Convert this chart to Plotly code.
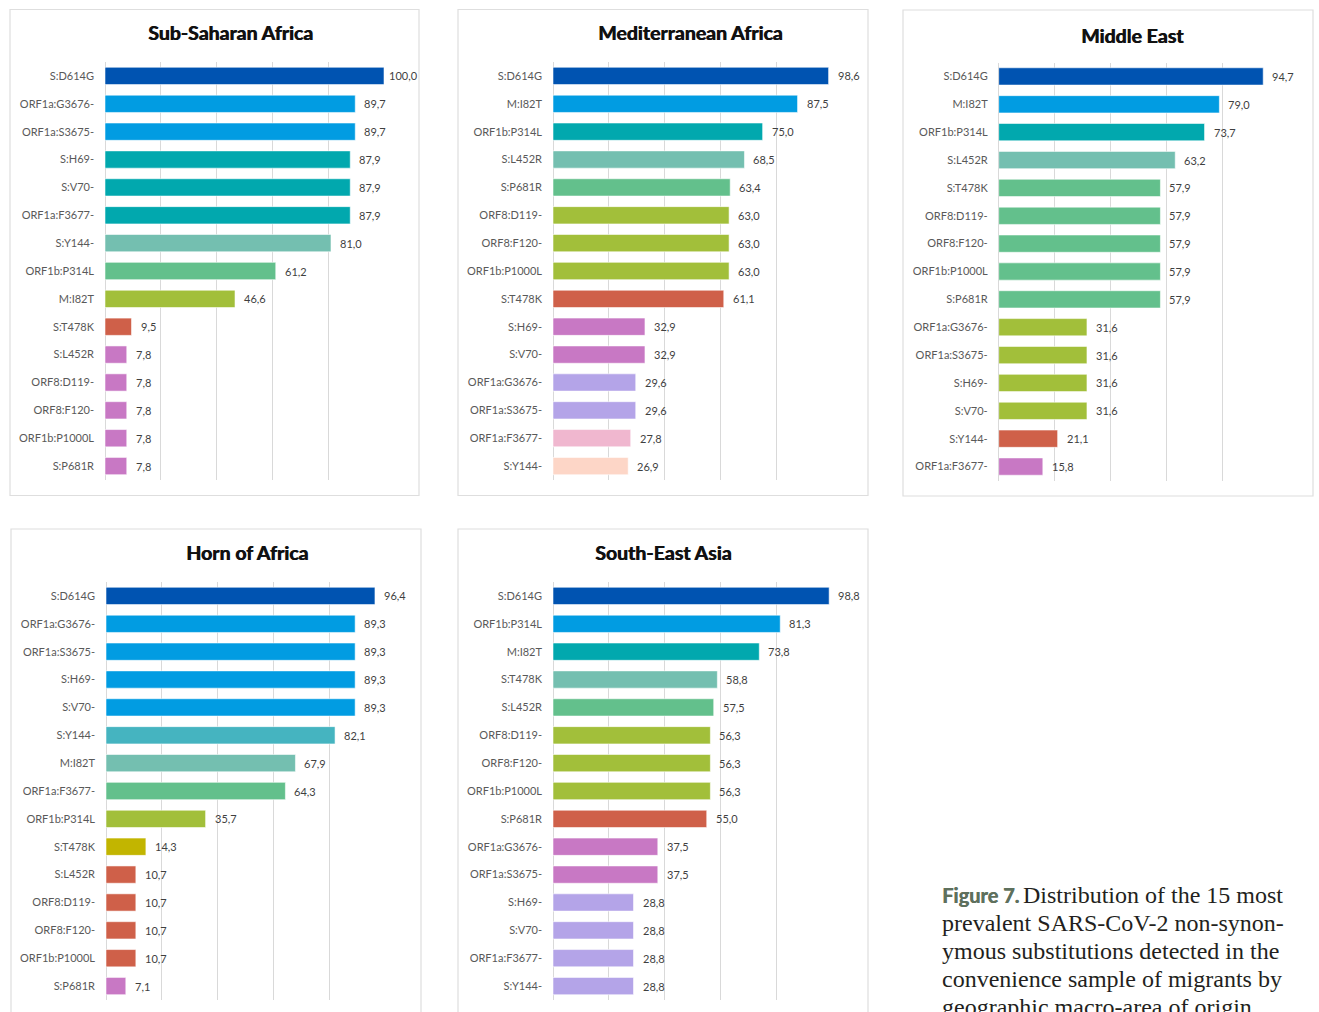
import plotly.graph_objects as go

W, H = 1319, 1012

# ---- colour palette -------------------------------------------------------
DARK_BLUE = "#0053b1"
BLUE = "#019ce2"
TEAL = "#01a8ae"
SEAFOAM = "#74bfb0"
GREEN = "#63c08c"
OLIVE = "#a2bf3a"
BRICK = "#cf6049"
ORCHID = "#c878c4"
LAVENDER = "#b4a4e8"
PINK = "#f0b7cf"
PEACH = "#fdd6c7"
CYAN = "#45b4c0"
MUSTARD = "#c2b500"

# ---- data -----------------------------------------------------------------
ssa_labels = ["S:D614G", "ORF1a:G3676-", "ORF1a:S3675-", "S:H69-", "S:V70-",
              "ORF1a:F3677-", "S:Y144-", "ORF1b:P314L", "M:I82T", "S:T478K",
              "S:L452R", "ORF8:D119-", "ORF8:F120-", "ORF1b:P1000L", "S:P681R"]
ssa_values = [100.0, 89.7, 89.7, 87.9, 87.9, 87.9, 81.0, 61.2, 46.6, 9.5,
              7.8, 7.8, 7.8, 7.8, 7.8]
ssa_colors = [DARK_BLUE, BLUE, BLUE, TEAL, TEAL, TEAL, SEAFOAM, GREEN, OLIVE,
              BRICK, ORCHID, ORCHID, ORCHID, ORCHID, ORCHID]

med_labels = ["S:D614G", "M:I82T", "ORF1b:P314L", "S:L452R", "S:P681R",
              "ORF8:D119-", "ORF8:F120-", "ORF1b:P1000L", "S:T478K", "S:H69-",
              "S:V70-", "ORF1a:G3676-", "ORF1a:S3675-", "ORF1a:F3677-", "S:Y144-"]
med_values = [98.6, 87.5, 75.0, 68.5, 63.4, 63.0, 63.0, 63.0, 61.1, 32.9,
              32.9, 29.6, 29.6, 27.8, 26.9]
med_colors = [DARK_BLUE, BLUE, TEAL, SEAFOAM, GREEN, OLIVE, OLIVE, OLIVE,
              BRICK, ORCHID, ORCHID, LAVENDER, LAVENDER, PINK, PEACH]

mde_labels = ["S:D614G", "M:I82T", "ORF1b:P314L", "S:L452R", "S:T478K",
              "ORF8:D119-", "ORF8:F120-", "ORF1b:P1000L", "S:P681R",
              "ORF1a:G3676-", "ORF1a:S3675-", "S:H69-", "S:V70-", "S:Y144-",
              "ORF1a:F3677-"]
mde_values = [94.7, 79.0, 73.7, 63.2, 57.9, 57.9, 57.9, 57.9, 57.9, 31.6,
              31.6, 31.6, 31.6, 21.1, 15.8]
mde_colors = [DARK_BLUE, BLUE, TEAL, SEAFOAM, GREEN, GREEN, GREEN, GREEN,
              GREEN, OLIVE, OLIVE, OLIVE, OLIVE, BRICK, ORCHID]

hoa_labels = ["S:D614G", "ORF1a:G3676-", "ORF1a:S3675-", "S:H69-", "S:V70-",
              "S:Y144-", "M:I82T", "ORF1a:F3677-", "ORF1b:P314L", "S:T478K",
              "S:L452R", "ORF8:D119-", "ORF8:F120-", "ORF1b:P1000L", "S:P681R"]
hoa_values = [96.4, 89.3, 89.3, 89.3, 89.3, 82.1, 67.9, 64.3, 35.7, 14.3,
              10.7, 10.7, 10.7, 10.7, 7.1]
hoa_colors = [DARK_BLUE, BLUE, BLUE, BLUE, BLUE, CYAN, SEAFOAM, GREEN, OLIVE,
              MUSTARD, BRICK, BRICK, BRICK, BRICK, ORCHID]

sea_labels = ["S:D614G", "ORF1b:P314L", "M:I82T", "S:T478K", "S:L452R",
              "ORF8:D119-", "ORF8:F120-", "ORF1b:P1000L", "S:P681R",
              "ORF1a:G3676-", "ORF1a:S3675-", "S:H69-", "S:V70-",
              "ORF1a:F3677-", "S:Y144-"]
sea_values = [98.8, 81.3, 73.8, 58.8, 57.5, 56.3, 56.3, 56.3, 55.0, 37.5,
              37.5, 28.8, 28.8, 28.8, 28.8]
sea_colors = [DARK_BLUE, BLUE, TEAL, SEAFOAM, GREEN, OLIVE, OLIVE, OLIVE,
              BRICK, ORCHID, ORCHID, LAVENDER, LAVENDER, LAVENDER, LAVENDER]

caption_label = "Figure 7."
caption_lines = [
    "Distribution of the 15 most",
    "prevalent SARS-CoV-2 non-synon-",
    "ymous substitutions detected in the",
    "convenience sample of migrants by",
    "geographic macro-area of origin",
]

panels = [
    dict(title="Sub-Saharan Africa", labels=ssa_labels, values=ssa_values, colors=ssa_colors,
         plot=(105, 384, 62, 480), frame=(10, 419, 9.5, 495.5), title_pos=(230, 32)),
    dict(title="Mediterranean Africa", labels=med_labels, values=med_values, colors=med_colors,
         plot=(553, 832.5, 62, 480), frame=(458, 868, 9.5, 495.5), title_pos=(689.5, 32)),
    dict(title="Middle East", labels=mde_labels, values=mde_values, colors=mde_colors,
         plot=(998.7, 1278, 62.5, 480.5), frame=(903, 1313, 10, 496), title_pos=(1132, 35)),
    dict(title="Horn of Africa", labels=hoa_labels, values=hoa_values, colors=hoa_colors,
         plot=(106, 385, 582, 1000), frame=(11, 421, 529, 1030), title_pos=(247.5, 552)),
    dict(title="South-East Asia", labels=sea_labels, values=sea_values, colors=sea_colors,
         plot=(553, 832.5, 582, 1000), frame=(458, 868, 529, 1030), title_pos=(662.5, 552)),
]

TICK_FONT = dict(family="Lato", size=11, color="#595959")
VALUE_FONT = dict(family="Lato", size=11, color="#3f3f3f")
# heavy display face: Lato bold thickened with a hairline offset copy
TITLE_FONT = dict(family="Lato", size=19.5, color="#111111", weight="bold",
                  shadow="0.7px 0px 0px #111111")
CAPTION_FONT = dict(family="Liberation Serif", size=24, color="#231f20")
LABEL_FONT = dict(family="Lato", size=20, color="#5e705d", weight="bold",
                  shadow="0.5px 0px 0px #5e705d")
GRID = "#d9d9d9"


def fmt(v):
    return f"{v:.1f}".replace(".", ",")


fig = go.Figure()
layout = dict(
    width=W, height=H,
    margin=dict(l=0, r=0, t=0, b=0),
    paper_bgcolor="white", plot_bgcolor="white",
    showlegend=False,
    annotations=[], shapes=[],
)

for i, p in enumerate(panels, start=1):
    xs = "" if i == 1 else str(i)
    x0, x1, y0, y1 = p["plot"]
    fig.add_trace(go.Bar(
        x=p["values"], y=p["labels"], orientation="h",
        marker=dict(color=p["colors"], line=dict(color="rgba(255,255,255,0.55)", width=1)),
        width=0.62,
        xaxis="x" + xs, yaxis="y" + xs,
        hoverinfo="x+y",
    ))
    layout["xaxis" + xs] = dict(
        domain=[x0 / W, x1 / W], range=[0, 100], anchor="y" + xs,
        tick0=0, dtick=20, showgrid=True, gridcolor=GRID, gridwidth=1,
        zeroline=True, zerolinecolor=GRID, zerolinewidth=1,
        showticklabels=False, showline=False, fixedrange=True,
    )
    layout["yaxis" + xs] = dict(
        domain=[1 - y1 / H, 1 - y0 / H], anchor="x" + xs,
        type="category", categoryorder="array", categoryarray=p["labels"],
        range=[len(p["labels"]) - 0.5, -0.5],
        showgrid=False, zeroline=False, showline=False,
        tickfont=TICK_FONT, ticks="", ticklabelstandoff=10, fixedrange=True,
    )
    # value labels at the end of each bar
    for lab, v in zip(p["labels"], p["values"]):
        layout["annotations"].append(dict(
            x=v, y=lab, xref="x" + xs, yref="y" + xs,
            text=fmt(v), showarrow=False, xanchor="left", yanchor="middle",
            xshift=3 if v >= 99.5 else 7, font=VALUE_FONT,
        ))
    # panel title
    tx, ty = p["title_pos"]
    layout["annotations"].append(dict(
        x=tx / W, y=1 - ty / H, xref="paper", yref="paper",
        text=p["title"], showarrow=False,
        xanchor="center", yanchor="middle", font=TITLE_FONT,
    ))
    # panel frame
    fx0, fx1, fy0, fy1 = p["frame"]
    layout["shapes"].append(dict(
        type="rect", xref="paper", yref="paper",
        x0=fx0 / W, x1=fx1 / W, y0=1 - fy1 / H, y1=1 - fy0 / H,
        line=dict(color="#dedede", width=1.2), fillcolor="rgba(0,0,0,0)", layer="below",
    ))

# figure caption: sans label, then serif text with one annotation per line
CAP_X, CAP_TEXT_X, CAP_Y0, CAP_STEP = 940, 1021, 895, 28
layout["annotations"].append(dict(
    x=CAP_X / W, y=1 - (CAP_Y0 - 0.5) / H, xref="paper", yref="paper",
    text=caption_label, showarrow=False, xanchor="left", yanchor="middle",
    font=LABEL_FONT,
))
for k, line in enumerate(caption_lines):
    x_px = CAP_TEXT_X if k == 0 else CAP_X
    layout["annotations"].append(dict(
        x=x_px / W, y=1 - (CAP_Y0 + k * CAP_STEP) / H, xref="paper", yref="paper",
        text=line, showarrow=False, align="left",
        xanchor="left", yanchor="middle", font=CAPTION_FONT,
    ))

fig.update_layout(**layout)
fig.write_html("out.html")
